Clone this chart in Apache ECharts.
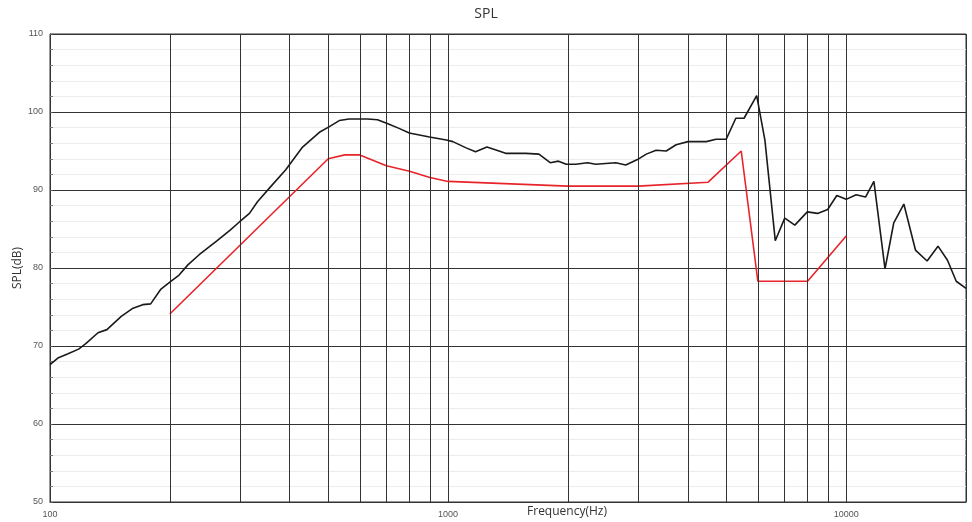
<!DOCTYPE html>
<html><head><meta charset="utf-8">
<script src="https://cdn.jsdelivr.net/npm/echarts@6/dist/echarts.min.js"></script>
<style>html,body{margin:0;padding:0;background:#fff}#c{width:972px;height:522px}</style>
</head><body><div id="c"></div>
<script>
const blackFreq = [100,105,111,118,123,132,139,151,161,171,179,190,200,211,222,237,263,284,299,317,332,358,391,431,475,502,533,564,628,634,665,706,753,799,898,990,1028,1110,1172,1252,1325,1395,1568,1691,1805,1894,1981,2093,2242,2348,2487,2637,2795,2990,3147,3330,3532,3740,4005,4452,4711,4994,5282,5540,5960,6250,6636,7010,7431,7986,8475,8986,9473,10000,10593,11185,11740,12520,13170,13960,14930,15970,17010,17970,18900,20000];
const blackSpl = [67.6,68.5,69.0,69.6,70.3,71.7,72.1,73.8,74.8,75.3,75.4,77.3,78.2,79.1,80.4,81.7,83.5,84.9,85.9,87.0,88.5,90.4,92.6,95.5,97.4,98.1,98.9,99.1,99.1,99.2,99.0,98.5,97.9,97.3,96.8,96.4,96.2,95.4,94.9,95.5,95.1,94.7,94.7,94.6,93.5,93.7,93.3,93.3,93.5,93.3,93.4,93.5,93.2,93.9,94.6,95.1,95.0,95.8,96.2,96.2,96.5,96.5,99.2,99.2,102.1,96.4,83.5,86.4,85.5,87.2,87.0,87.5,89.3,88.8,89.4,89.1,91.1,79.9,85.8,88.2,82.3,80.9,82.8,81.0,78.3,77.4];
const redFreq = [200,500,550,600,700,800,900,1000,2000,3000,4500,5450,6000,8000,10000];
const redSpl = [74.1,94.0,94.5,94.5,93.1,92.4,91.6,91.1,90.5,90.5,91.0,95.0,78.3,78.3,84.1];
const gridFreqs = [200,300,400,500,600,700,800,900,2000,3000,4000,5000,6000,7000,8000,9000];
const xLabels = [100,1000,10000];

const chart = echarts.init(document.getElementById('c'));
chart.setOption({
  animation: false,
  title: { text: 'SPL', left: 'center', top: 2, textStyle: { fontSize: 14, fontWeight: 'normal', color: '#333', fontFamily: 'Open Sans' } },
  grid: { left: 50, right: 6, top: 34, bottom: 20, show: true, borderColor: '#333', borderWidth: 1, containLabel: false, outerBoundsMode: 'none' },
  xAxis: {
    type: 'log', logBase: 10, min: 100, max: 20000,
    name: 'Frequency(Hz)', nameLocation: 'middle', nameGap: 4, nameMoveOverlap: false,
    nameTextStyle: { fontSize: 12, color: '#333', fontFamily: 'Open Sans', padding: [0, 0, 0, 118] },
    axisLine: { lineStyle: { color: '#333' } },
    axisTick: { show: false },
    axisLabel: { fontSize: 9, color: '#555', margin: 8,
      formatter: v => xLabels.indexOf(Math.round(v)) >= 0 ? String(Math.round(v)) : '' },
    splitLine: { show: true, lineStyle: { color: '#333', width: 1 } }
  },
  yAxis: {
    type: 'value', min: 50, max: 110, interval: 10,
    name: 'SPL(dB)', nameLocation: 'middle', nameGap: 26, nameMoveOverlap: false,
    nameTextStyle: { fontSize: 12, color: '#333', fontFamily: 'Open Sans' },
    axisLine: { show: true, lineStyle: { color: '#333' } },
    axisTick: { show: true, inside: true, length: 3, lineStyle: { color: '#555' } },
    minorTick: { show: true, splitNumber: 5, length: 3, lineStyle: { color: '#777' } },
    axisLabel: { fontSize: 9, color: '#555', margin: 7 },
    splitLine: { show: true, lineStyle: { color: '#333', width: 1 } },
    minorSplitLine: { show: true, lineStyle: { color: '#ececec', width: 1 } }
  },
  series: [
    {
      type: 'line', data: blackFreq.map((f, i) => [f, blackSpl[i]]),
      showSymbol: false, symbol: 'none', lineStyle: { color: '#1a1a1a', width: 1.6 }, z: 5,
      markLine: {
        silent: true, symbol: 'none', label: { show: false },
        lineStyle: { color: '#333', width: 1, type: 'solid' },
        data: gridFreqs.map(f => ({ xAxis: f }))
      }
    },
    {
      type: 'line', data: redFreq.map((f, i) => [f, redSpl[i]]),
      showSymbol: false, symbol: 'none', lineStyle: { color: '#e8242a', width: 1.6 }, z: 4
    }
  ]
});
</script></body></html>
